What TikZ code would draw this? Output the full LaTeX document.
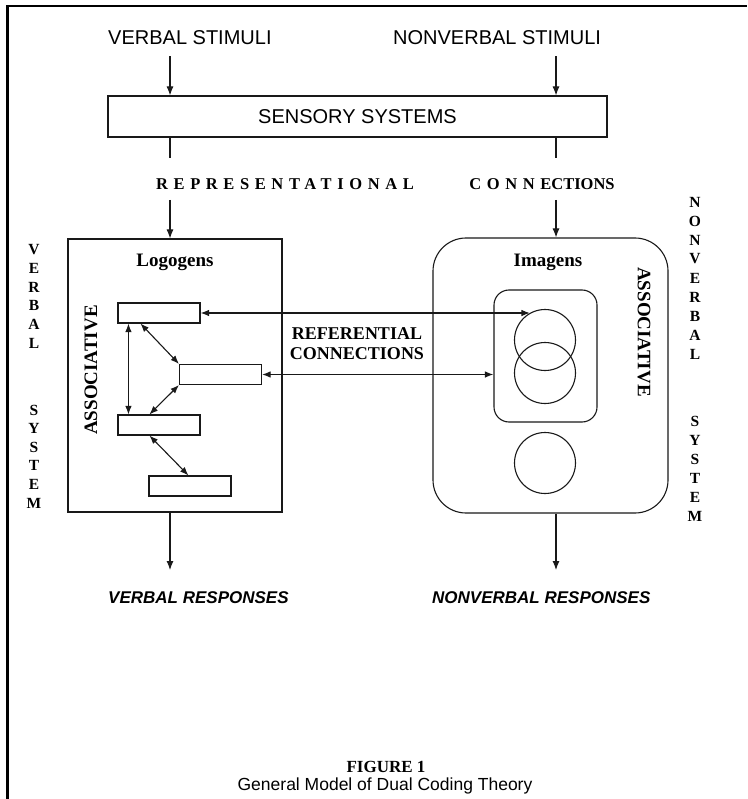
\documentclass[tikz,border=0pt]{standalone}
\usepackage{fontspec}
\setmainfont{Liberation Serif}
\newfontfamily\arialfont{Liberation Sans}
\usetikzlibrary{arrows.meta}

\begin{document}
\begin{tikzpicture}[x=1pt,y=-1pt]
\tikzstyle{every node}=[inner sep=0pt];
\tikzstyle{line}=[line width=1.1pt, draw=black!90];
\tikzstyle{arr}=[line, -{Latex[length=9pt,width=7pt]}];
\tikzstyle{dbl}=[line, {Latex[length=8.5pt,width=6.5pt]}-{Latex[length=8.5pt,width=6.5pt]}];
\tikzstyle{unit}=[line, draw, minimum width=82pt, minimum height=20pt];
\tikzstyle{blob}=[line, draw, circle, minimum size=61pt];
\tikzstyle{sans}=[font=\arialfont\fontsize{20}{24}\selectfont];
\tikzstyle{resp}=[font=\arialfont\bfseries\itshape\fontsize{17}{20}\selectfont, anchor=west];
\tikzstyle{bold}=[font=\bfseries\fontsize{19}{21}\selectfont];
\tikzstyle{spaced}=[font=\bfseries\fontsize{16.5}{18}\selectfont\addfontfeature{LetterSpace=34}];
\tikzstyle{letter}=[font=\bfseries\fontsize{15.5}{17}\selectfont];
\useasboundingbox (0,0) rectangle (747,799);
% frame
\draw[line width=2.5pt] (7.5,799) -- (7.5,6) -- (747,6);

\node[sans, anchor=west, inner ysep=11pt] (vstim) at (108,38) {VERBAL STIMULI};
\node[sans, anchor=west, inner ysep=11pt] (nstim) at (393,38) {NONVERBAL STIMULI};
\node[line, draw, sans, minimum width=499pt, minimum height=41pt] (sensory) at (357.5,116.5) {SENSORY SYSTEMS};
\node[spaced] (repr) at (285,184) {REPRESENTATIONAL};
\node[font=\bfseries\fontsize{16.5}{18}\selectfont] (conn) at (542,184) {{\addfontfeature{LetterSpace=34}CONNE}CTIONS};

\coordinate (vx) at (170,0);
\coordinate (nx) at (556,0);
\coordinate (vcut) at (170,158);
\coordinate (ncut) at (556,158);
\coordinate (vgo) at (170,200);
\coordinate (ngo) at (556,200);
\coordinate (vend) at (170,570);
\coordinate (nend) at (556,570);

% the two systems
\node[line, draw, minimum width=214pt, minimum height=273pt] (logobox) at (175,375.5) {};
\node[line, draw, rounded corners=33pt, minimum width=235pt, minimum height=275pt] (imagbox) at (550.5,375.5) {};
\node[bold] (logo) at (175,262) {Logogens};
\node[bold] (imag) at (548,262) {Imagens};
\node[bold, rotate=90] (lassoc) at (91,370) {ASSOCIATIVE};
\node[bold, rotate=-90] (rassoc) at (644,332) {ASSOCIATIVE};

\node[unit] (lu1) at (159,313) {};
\node[unit] (lu2) at (220.5,374.5) {};
\node[unit] (lu3) at (159,425) {};
\node[unit] (lu4) at (190,486) {};

\node[line, draw, rounded corners=15pt, minimum width=103pt, minimum height=132pt] (inner) at (545.5,356) {};
\node[blob] (c1) at (545,340) {};
\node[blob] (c2) at (545,373) {};
\node[blob] (c3) at (545,463) {};

\node[bold, align=center, font=\bfseries\fontsize{18}{20}\selectfont] (refer) at (357,344) {REFERENTIAL\\CONNECTIONS};

\node[resp] (vresp) at (108,598) {VERBAL RESPONSES};
\node[resp] (nresp) at (432,598) {NONVERBAL RESPONSES};

\draw[arr] (vstim.south -| vx) -- (sensory.north -| vx);
\draw[arr] (nstim.south -| nx) -- (sensory.north -| nx);
\draw[line] (sensory.south -| vcut) -- (vcut);
\draw[line] (sensory.south -| ncut) -- (ncut);
\draw[arr] (vgo) -- (logobox.north -| vgo);
\draw[arr] (ngo) -- (imagbox.north -| ngo);
\draw[arr] (logobox.south -| vend) -- (vend);
\draw[arr] (imagbox.south -| nend) -- (nend);

\draw[dbl] ([xshift=11pt]lu1.south west) -- ([xshift=11pt]lu3.north west);
\draw[dbl] ([xshift=23pt]lu1.south west) -- (lu2.north west);
\draw[dbl] (lu2.south west) -- ([xshift=32pt]lu3.north west);
\draw[dbl] ([xshift=32pt]lu3.south west) -- ([xshift=40pt]lu4.north west);
\draw[dbl] (lu1.east) -- (lu1.east -| c1.119);
\draw[dbl] (lu2.east) -- (lu2.east -| inner.west);

\foreach \ch [count=\i from 0] in {V,E,R,B,A,L}
  \node[letter] (vl\i) at (34,{250+18.6*\i}) {\ch};
\foreach \ch [count=\i from 0] in {S,Y,S,T,E,M}
  \node[letter] (vs\i) at (34,{410+18.6*\i}) {\ch};
\foreach \ch [count=\i from 0] in {N,O,N,V,E,R,B,A,L}
  \node[letter] (nl\i) at (695,{202+19*\i}) {\ch};
\foreach \ch [count=\i from 0] in {S,Y,S,T,E,M}
  \node[letter] (ns\i) at (695,{421+19*\i}) {\ch};

\node[font=\bfseries\fontsize{17}{19}\selectfont] (fig) at (386,767) {FIGURE 1};
\node[font=\arialfont\fontsize{17.5}{20}\selectfont] (title) at (385,786) {General Model of Dual Coding Theory};
\end{tikzpicture}
\end{document}
